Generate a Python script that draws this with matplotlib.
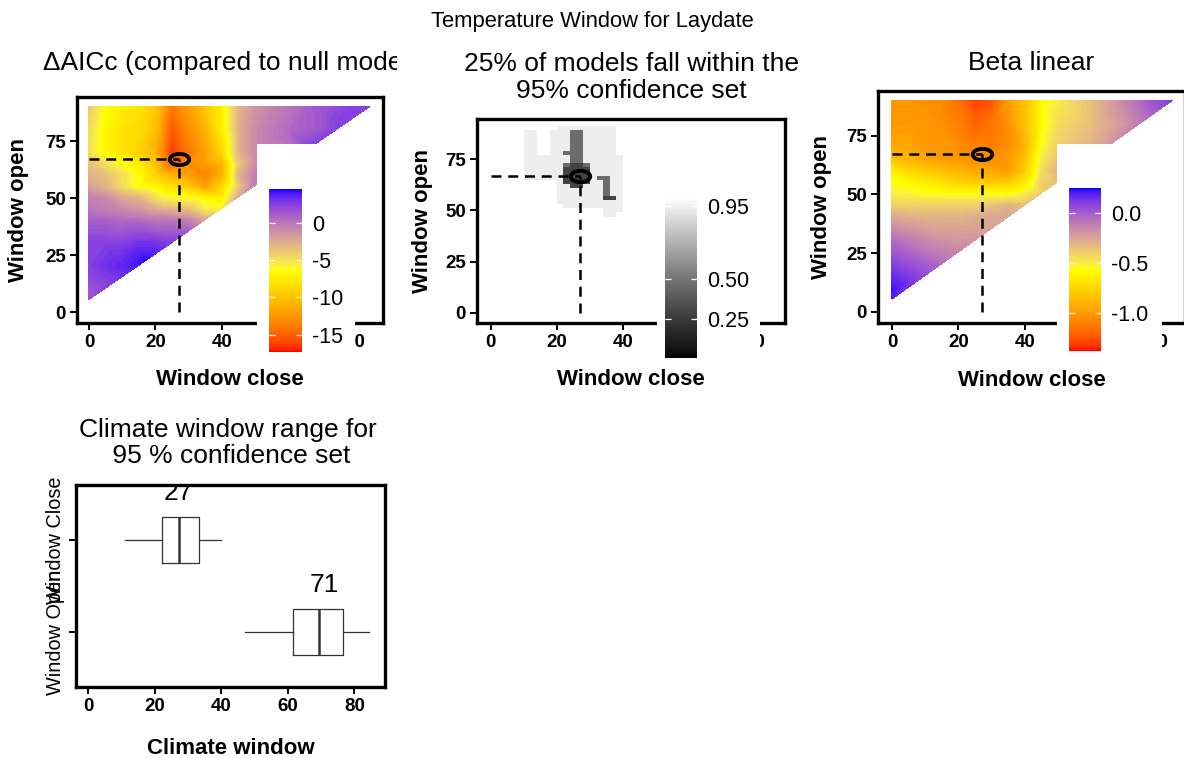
import numpy as np
import matplotlib
matplotlib.use("Agg")
import matplotlib.pyplot as plt
import matplotlib.tri as mtri
from matplotlib.colors import ListedColormap, Normalize
from matplotlib.cm import ScalarMappable
from matplotlib.path import Path
from matplotlib.transforms import Affine2D, Bbox, TransformedBbox

plt.rcParams['font.family'] = 'Liberation Sans'
plt.rcParams['axes.unicode_minus'] = False

# ---------------- values ----------------
best_close = 27
best_open = 67
min_gap = 5.5          # window open sits at least this far past window close

close_grid = [0, 5, 10, 15, 20, 25, 30, 35, 40, 45, 50, 60, 70, 80]
open_grid = [10, 20, 30, 40, 45, 50, 55, 60, 65, 70, 80, 90]
diag_close = [0, 10, 17, 25, 30, 35, 40, 45, 50, 60, 67, 75, 84.5]

# delta AICc, one row per open_grid entry, starting at close 0
aicc_rows = [
    [1.5],
    [2.5, 3.0, 3.5],
    [2.5, 2.5, 2.5, 3.0, 3.0],
    [1.0, 1.0, 0.5, 0.5, 0.0, 0.0, -0.5],
    [0.0, -0.5, -1.0, -1.5, -2.5, -3.0, -3.5, -5.5],
    [-0.5, -1.0, -2.5, -3.0, -5.0, -6.0, -6.0, -7.0, -7.5],
    [-2.0, -3.0, -5.0, -6.5, -7.0, -8.5, -10.0, -12.0, -9.0, -4.0],
    [-3.0, -3.5, -5.0, -6.5, -9.0, -11.0, -12.0, -13.5, -11.0, -3.0, -0.5],
    [-3.5, -5.0, -6.5, -7.5, -10.0, -15.0, -13.0, -12.0, -11.0, -4.0, -1.0],
    [-5.0, -7.0, -8.0, -9.0, -11.0, -16.5, -14.0, -12.0, -9.0, -3.0, -1.0, 0.0],
    [-4.8, -7.0, -8.0, -8.5, -10.0, -15.5, -13.0, -11.0, -7.5, -3.0, -1.0, 0.5, 1.5],
    [-4.0, -6.5, -7.5, -8.0, -9.5, -14.0, -12.0, -10.0, -7.5, -3.0, -1.5, 0.0, 1.5, 2.5],
]
aicc_diag = [1.5, 3.0, 4.3, 2.5, 1.0, -2.5, -6.0, -2.5, -0.5, 0.5, 2.5, 2.5, 2.5]
aicc_range = (-17.3, 4.5)

# beta (linear), same layout
beta_rows = [
    [0.22],
    [0.10, 0.05, 0.0],
    [-0.05, -0.10, -0.15, -0.18, -0.20],
    [-0.25, -0.28, -0.30, -0.30, -0.30, -0.28, -0.25],
    [-0.40, -0.40, -0.40, -0.40, -0.40, -0.40, -0.35, -0.30],
    [-0.50, -0.52, -0.55, -0.55, -0.55, -0.55, -0.55, -0.55, -0.50],
    [-0.55, -0.60, -0.65, -0.70, -0.75, -0.80, -0.80, -0.80, -0.65, -0.40],
    [-0.65, -0.75, -0.80, -0.85, -0.90, -0.95, -0.95, -1.00, -0.80, -0.45, -0.30],
    [-0.85, -0.90, -0.95, -1.00, -1.00, -1.05, -1.05, -1.00, -0.85, -0.50, -0.35],
    [-0.95, -0.95, -1.00, -1.00, -1.05, -1.10, -1.10, -1.05, -0.90, -0.55, -0.40, -0.30],
    [-1.00, -1.00, -1.00, -1.05, -1.10, -1.20, -1.15, -1.05, -0.85, -0.60, -0.45, -0.35, -0.20],
    [-1.00, -1.00, -1.05, -1.05, -1.15, -1.30, -1.25, -1.00, -0.85, -0.60, -0.50, -0.35, -0.15, 0.05],
]
beta_diag = [0.20, 0.05, -0.10, -0.20, -0.25, -0.25, -0.35, -0.40, -0.35, -0.30, -0.20, -0.10, 0.10]
beta_range = (-1.38, 0.25)

# cumulative model weight, 2-unit cells, close 10..40, open 91 (top row) down to 47
conf_levels = {' ': 1.0, '.': 0.94, 'o': 0.46, '#': 0.29}
conf_close_edges = np.arange(10, 42, 2)
conf_open_edges = np.arange(47, 93, 2)
conf_rows = [
    "     ......... ",
    "..  ...oo..... ",
    "..  ...oo..... ",
    "..  ...oo..... ",
    "..  ...oo..... ",
    "..  ...oo..... ",
    "..  ..ooo..... ",
    ".......oo......",
    ".......oo......",
    "......o##o.....",
    "......####.....",
    "......####.....",
    "......####.oo..",
    "     .####..o..",
    "     ..##...o..",
    "     .......o..",
    "     .......o..",
    "     .......##.",
    "     ..........",
    "      .........",
    "            ...",
    "            .. ",
]
conf_range = (0.01, 1.0)

# climate window range boxplot (whisker low, q1, median, q3, whisker high)
box_names = ['Window Open', 'Window Close']
box_stats = [[47.3, 61.5, 69.3, 76.6, 84.5],
             [11.0, 22.3, 27.4, 33.3, 40.0]]
box_labels = [71, 27]


# ---------------- helpers ----------------
def lab_ramp(hex_colors, n=256):
    # colour ramp interpolated in CIELAB, like ggplot's gradientn
    white = np.array([0.95047, 1.0, 1.08883])
    m = np.array([[0.4124, 0.3576, 0.1805],
                  [0.2126, 0.7152, 0.0722],
                  [0.0193, 0.1192, 0.9505]])
    rgb = np.array([matplotlib.colors.to_rgb(c) for c in hex_colors])
    lin = np.where(rgb <= 0.04045, rgb / 12.92, ((rgb + 0.055) / 1.055) ** 2.4)
    xyz = lin @ m.T / white
    d = 6 / 29
    f = np.where(xyz > d ** 3, np.cbrt(xyz), xyz / (3 * d * d) + 4 / 29)
    lab = np.stack([116 * f[:, 1] - 16, 500 * (f[:, 0] - f[:, 1]), 200 * (f[:, 1] - f[:, 2])], -1)
    t = np.linspace(0, 1, n)
    knots = np.linspace(0, 1, len(hex_colors))
    lab_i = np.stack([np.interp(t, knots, lab[:, k]) for k in range(3)], -1)
    fy = (lab_i[:, 0] + 16) / 116
    fs = np.stack([fy + lab_i[:, 1] / 500, fy, fy - lab_i[:, 2] / 200], -1)
    xyz = np.where(fs > d, fs ** 3, 3 * d * d * (fs - 4 / 29)) * white
    lin = np.clip(xyz @ np.linalg.inv(m).T, 0, None)
    out = np.where(lin <= 0.0031308, 12.92 * lin, 1.055 * lin ** (1 / 2.4) - 0.055)
    return ListedColormap(np.clip(out, 0, 1))


heat_cmap = lab_ramp(['#FF0000', '#FFFF00', '#0000FF'])
gray_cmap = lab_ramp(['#000000', '#FFFFFF'])

W, H = 1184, 758


def px_rect(left, top, right, bottom):
    return [left / W, 1 - bottom / H, (right - left) / W, (bottom - top) / H]


fig = plt.figure(figsize=(W / 100, H / 100), dpi=100)

ring = Path.unit_circle().transformed(Affine2D().scale(1.0, 0.58))


def style_axes(ax, xlim, ylim, xticks, xlab, xlab_y):
    ax.set_xlim(*xlim)
    ax.set_ylim(*ylim)
    ax.set_xticks(xticks)
    for s in ax.spines.values():
        s.set_linewidth(2.4)
    ax.tick_params(direction='out', length=5, width=1.4, labelsize=13.5, pad=3)
    for lab in ax.get_xticklabels() + ax.get_yticklabels():
        lab.set_fontweight('bold')
    ax.set_xlabel(xlab, fontsize=16, fontweight='bold')
    ax.xaxis.label.set_va('center')
    ax.xaxis.set_label_coords(0.5, xlab_y)


def heat_panel(ax, rows, diag, lo, hi):
    xs, ys, zs = [], [], []
    for o, row in zip(open_grid, rows):
        for c, v in zip(close_grid, row):
            xs.append(c)
            ys.append(o)
            zs.append(v)
    for c, v in zip(diag_close, diag):
        xs.append(c)
        ys.append(c + min_gap)
        zs.append(v)
    tri = mtri.Triangulation(xs, ys)
    ax.tricontourf(tri, zs, levels=np.linspace(lo, hi, 90), cmap=heat_cmap,
                   vmin=lo, vmax=hi, antialiased=False, zorder=1)


def best_marks(ax):
    ax.plot([0, best_close], [best_open, best_open], color='black', lw=1.8,
            ls=(0, (4, 2.7)), zorder=3)
    ax.plot([best_close, best_close], [0, best_open], color='black', lw=1.8,
            ls=(0, (4, 2.7)), zorder=3)
    ax.plot([best_close], [best_open], marker=ring, ms=14, mfc='none',
            mec='black', mew=2.8, zorder=4)


def ylabel_open(ax, x):
    ax.set_yticks([0, 25, 50, 75])
    for lab in ax.get_yticklabels():
        lab.set_fontweight('bold')
    ax.set_ylabel('Window open', fontsize=16, fontweight='bold')
    ax.yaxis.label.set_va('center')
    ax.yaxis.set_label_coords(x, 0.5)


def legend_bar(bg_box, cb_box, cmap, lo, hi, ticks, labels):
    bg = fig.add_axes(px_rect(*bg_box), zorder=5)
    bg.set_facecolor('white')
    bg.set_xticks([])
    bg.set_yticks([])
    for s in bg.spines.values():
        s.set_visible(False)
    cax = fig.add_axes(px_rect(*cb_box), zorder=6)
    cb = fig.colorbar(ScalarMappable(Normalize(lo, hi), cmap), cax=cax, ticks=ticks)
    cb.outline.set_visible(False)
    cax.tick_params(axis='y', direction='in', length=4.3, width=0.9, color='white',
                    labelsize=15.5, pad=7, left=True, right=True,
                    labelleft=False, labelright=True)
    cax.set_yticklabels(labels)


# ---- panel 1: delta AICc ----
ax1 = fig.add_axes(px_rect(77, 97, 383, 323))
heat_panel(ax1, aicc_rows, aicc_diag, *aicc_range)
best_marks(ax1)
style_axes(ax1, (-3.6, 88.6), (-4.8, 94.3), [0, 20, 40, 60, 80], 'Window close', -0.252)
ylabel_open(ax1, -0.19)
legend_bar((257, 144, 355, 358), (269, 189, 302, 352), heat_cmap, *aicc_range,
           [0, -5, -10, -15], ['0', '-5', '-10', '-15'])

# ---- panel 2: 95% confidence set ----
ax2 = fig.add_axes(px_rect(477, 119, 785, 323))
conf_vals = np.array([[conf_levels[ch] for ch in row] for row in conf_rows])[::-1]
ax2.pcolormesh(conf_close_edges, conf_open_edges, conf_vals, cmap=gray_cmap,
               vmin=conf_range[0], vmax=conf_range[1], zorder=1)
best_marks(ax2)
style_axes(ax2, (-4.2, 89.1), (-4.9, 94.6), [0, 20, 40, 60, 80], 'Window close', -0.279)
ylabel_open(ax2, -0.178)
legend_bar((657, 150, 760, 362), (665, 198, 697, 358), gray_cmap, *conf_range,
           [0.25, 0.5, 0.95], ['0.25', '0.50', '0.95'])

# ---- panel 3: beta linear ----
ax3 = fig.add_axes(px_rect(878, 91, 1185, 323))
heat_panel(ax3, beta_rows, beta_diag, *beta_range)
best_marks(ax3)
style_axes(ax3, (-4.2, 88.3), (-4.7, 94.0), [0, 20, 40, 60, 80], 'Window close', -0.246)
ylabel_open(ax3, -0.183)
legend_bar((1057, 144, 1162, 357), (1069, 188, 1101, 351), heat_cmap, *beta_range,
           [0.0, -0.5, -1.0], ['0.0', '-0.5', '-1.0'])

# ---- panel 4: climate window range ----
ax4 = fig.add_axes(px_rect(76, 485, 385, 687))
stats = [dict(whislo=s[0], q1=s[1], med=s[2], q3=s[3], whishi=s[4]) for s in box_stats]
line = dict(color='#333333', lw=0.9)
ax4.bxp(stats, positions=[1, 2], widths=0.5, orientation='horizontal',
        showfliers=False, showcaps=False, boxprops=line, whiskerprops=line,
        medianprops=dict(color='#333333', lw=1.8))
for pos, val in zip([1, 2], box_labels):
    ax4.text(val, pos + 0.51, str(val), ha='center', va='center', fontsize=19,
             clip_on=True)
style_axes(ax4, (-3.6, 89.2), (0.4, 2.6), [0, 20, 40, 60, 80], 'Climate window', -0.302)
ax4.set_yticks([1, 2])
ax4.set_yticklabels(box_names, rotation=90, va='center', fontsize=14.3, fontweight='normal')

# ---- titles ----
fig.text(592 / W, 1 - 22 / H, 'Temperature Window for Laydate', ha='center', va='center',
         fontsize=15.8)
t1 = fig.text(230 / W, 1 - 63 / H, 'ΔAICc (compared to null model)', ha='center',
              va='center', fontsize=19)
t1.set_clip_box(TransformedBbox(Bbox([[0, 0], [397 / W, 1]]), fig.transFigure))
t1.set_clip_on(True)
fig.text(631 / W, 1 - 77.5 / H, '25% of models fall within the\n95% confidence set',
         ha='center', va='center', fontsize=19, linespacing=1.12)
fig.text(1031 / W, 1 - 63 / H, 'Beta linear', ha='center', va='center', fontsize=19)
fig.text(228 / W, 1 - 443 / H, 'Climate window range for\n 95 % confidence set',
         ha='center', va='center', fontsize=19, linespacing=1.12)

fig.savefig('out.png', dpi=100)
